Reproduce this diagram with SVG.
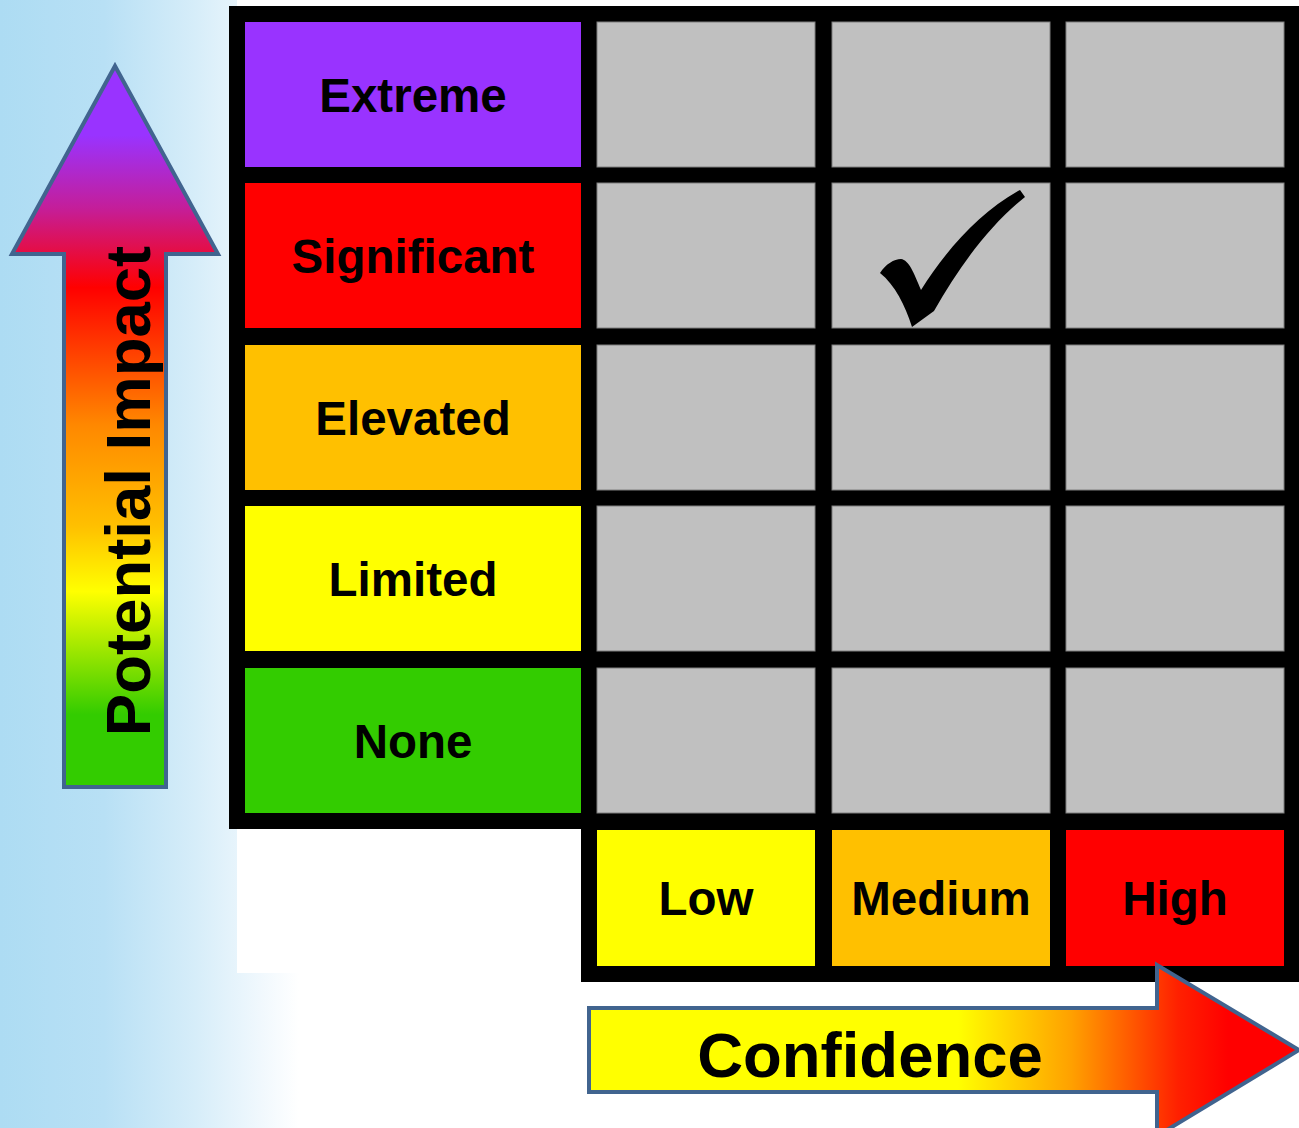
<svg xmlns="http://www.w3.org/2000/svg" width="1299" height="1128" viewBox="0 0 1299 1128">
<defs>
<linearGradient id="bg" x1="0" y1="0" x2="1299" y2="0" gradientUnits="userSpaceOnUse">
<stop offset="0" stop-color="#ADDCF3"/>
<stop offset="0.08" stop-color="#B8E0F5"/>
<stop offset="0.15" stop-color="#D6EDF9"/>
<stop offset="0.2" stop-color="#F0F8FD"/>
<stop offset="0.23" stop-color="#FFFFFF"/>
<stop offset="1" stop-color="#FFFFFF"/>
</linearGradient>
<linearGradient id="upGrad" x1="0" y1="63" x2="0" y2="787" gradientUnits="userSpaceOnUse">
<stop offset="0.1" stop-color="#9933FF"/>
<stop offset="0.2" stop-color="#C41E9A"/>
<stop offset="0.31" stop-color="#FF0000"/>
<stop offset="0.5" stop-color="#FF8800"/>
<stop offset="0.64" stop-color="#FFC000"/>
<stop offset="0.73" stop-color="#FFFF00"/>
<stop offset="0.9" stop-color="#33CC00"/>
</linearGradient>
<linearGradient id="rightGrad" x1="589" y1="0" x2="1299" y2="0" gradientUnits="userSpaceOnUse">
<stop offset="0.52" stop-color="#FFFF00"/>
<stop offset="0.68" stop-color="#FFA000"/>
<stop offset="0.83" stop-color="#FF2000"/>
<stop offset="0.9" stop-color="#FF0000"/>
</linearGradient>
<style>
.lbl{font-family:"Liberation Sans",Arial,sans-serif;font-weight:bold;font-size:47.5px;fill:#000;text-anchor:middle}
.cell{fill:#C0C0C0;stroke:#7F7F7F;stroke-width:1}
.arrow{stroke:#41648F;stroke-width:4;stroke-linejoin:miter}
</style>
</defs>
<rect x="0" y="0" width="1299" height="1128" fill="url(#bg)"/>
<rect x="237" y="0" width="1062" height="973" fill="#FFFFFF"/>
<g id="grid-frame">
<polygon points="229,6 1299,6 1299,982 581,982 581,829 229,829" fill="#000"/>
</g>
<g id="row-extreme"><rect x="245" y="22" width="336" height="145" fill="#9933FF"/><text class="lbl" x="413" y="112">Extreme</text></g>
<g id="row-significant"><rect x="245" y="183" width="336" height="145" fill="#FF0000"/><text class="lbl" x="413" y="273">Significant</text></g>
<g id="row-elevated"><rect x="245" y="345" width="336" height="145" fill="#FFC000"/><text class="lbl" x="413" y="435">Elevated</text></g>
<g id="row-limited"><rect x="245" y="506" width="336" height="145" fill="#FFFF00"/><text class="lbl" x="413" y="596">Limited</text></g>
<g id="row-none"><rect x="245" y="668" width="336" height="145" fill="#33CC00"/><text class="lbl" x="413" y="758">None</text></g>
<g id="cells">
<rect class="cell" x="597" y="22" width="218" height="145"/>
<rect class="cell" x="832" y="22" width="218" height="145"/>
<rect class="cell" x="1066" y="22" width="218" height="145"/>
<rect class="cell" x="597" y="183" width="218" height="145"/>
<rect class="cell" x="832" y="183" width="218" height="145"/>
<rect class="cell" x="1066" y="183" width="218" height="145"/>
<rect class="cell" x="597" y="345" width="218" height="145"/>
<rect class="cell" x="832" y="345" width="218" height="145"/>
<rect class="cell" x="1066" y="345" width="218" height="145"/>
<rect class="cell" x="597" y="506" width="218" height="145"/>
<rect class="cell" x="832" y="506" width="218" height="145"/>
<rect class="cell" x="1066" y="506" width="218" height="145"/>
<rect class="cell" x="597" y="668" width="218" height="145"/>
<rect class="cell" x="832" y="668" width="218" height="145"/>
<rect class="cell" x="1066" y="668" width="218" height="145"/>
</g>
<g id="check-mark">
<path d="M880,273 C886,264 894,259 901,259 C909,260 914,273 921,290 C946,250 980,212 1020,190 L1025,197 C990,225 960,265 934,311 L912,327 C905,305 895,285 880,273 Z" fill="#000"/>
</g>
<g id="col-low"><rect x="597" y="830" width="218" height="136" fill="#FFFF00"/><text class="lbl" x="706" y="915">Low</text></g>
<g id="col-medium"><rect x="832" y="830" width="218" height="136" fill="#FFC000"/><text class="lbl" x="941" y="915">Medium</text></g>
<g id="col-high"><rect x="1066" y="830" width="218" height="136" fill="#FF0000"/><text class="lbl" x="1175" y="915">High</text></g>
<g id="connectors">
<g id="impact-arrow">
<polygon class="arrow" fill="url(#upGrad)" points="115,66 218,254 166,254 166,787 64,787 64,254 12,254"/>
<text x="150" y="491" transform="rotate(-90 150 491)" style="font-family:'Liberation Sans',Arial,sans-serif;font-weight:bold;font-size:63.5px;text-anchor:middle">Potential Impact</text>
</g>
<g id="confidence-arrow">
<polygon class="arrow" fill="url(#rightGrad)" points="589,1008 1157,1008 1157,965 1299,1050 1157,1136 1157,1092 589,1092"/>
<text x="870" y="1077" style="font-family:'Liberation Sans',Arial,sans-serif;font-weight:bold;font-size:63.5px;text-anchor:middle">Confidence</text>
</g>
</g>
</svg>
